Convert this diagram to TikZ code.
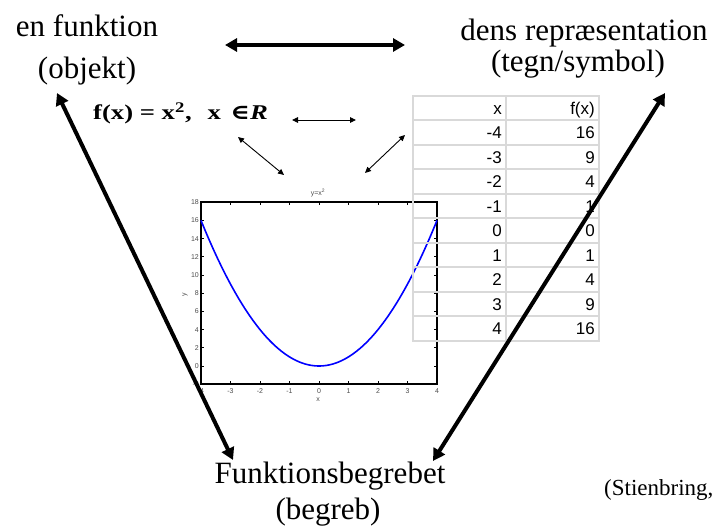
\documentclass[tikz,border=0pt]{standalone}
\usepackage{fontspec}
\setmainfont{Liberation Serif}
\newfontfamily\arialfont{Liberation Sans}
\newfontfamily\symfont{DejaVu Serif}
\usetikzlibrary{arrows.meta}
\begin{document}
\begin{tikzpicture}[x=1pt,y=-1pt,
  bigtxt/.style={font=\fontsize{31}{36}\selectfont, inner sep=0pt, anchor=base},
  thickarrow/.style={line width=4pt, {Triangle[length=12pt,width=13pt]}-{Triangle[length=12pt,width=13pt]}},
  thinarrow/.style={line width=0.9pt, {Triangle[length=6pt,width=5.5pt]}-{Triangle[length=6pt,width=5.5pt]}},
  gridline/.style={draw=black!15, line width=2pt, line cap=rect},
  cell/.style={font=\arialfont\fontsize{17}{20}\selectfont, inner sep=0pt, anchor=base east},
  ticklbl/.style={font=\arialfont\fontsize{7}{8}\selectfont, text=black!70, inner sep=0pt},
  tick/.style={line width=0.6pt},
]
\useasboundingbox (0,0) rectangle (715,526);

% ---------- plot ----------
\draw[line width=1.2pt] (201,202) rectangle (437,384);
\foreach \u in {-3,...,3} {
  \draw[tick] ({319+29.5*\u},384) -- ++(0,-3);
  \draw[tick] ({319+29.5*\u},202) -- ++(0,3);
}
\foreach \u in {-4,...,4} {
  \node[ticklbl, anchor=north] (xl\u) at ({319+29.5*\u},388) {\u};
}
\foreach \yy in {-2,0,...,18} {
  \draw[tick] (201,{366-9.1*\yy}) -- ++(3,0);
  \draw[tick] (437,{366-9.1*\yy}) -- ++(-3,0);
  \node[ticklbl, anchor=east] (yl\yy) at (199,{366-9.1*\yy}) {\yy};
}
\node[ticklbl] (ptitle) at (318,193) {y=x\textsuperscript{2}};
\node[ticklbl] (xlab) at (318,400) {x};
\node[ticklbl, rotate=90] (ylab) at (185,295) {y};
\draw[blue, line width=1.6pt, domain=-4:4, samples=80, smooth]
  plot ({319+29.5*\x},{366-9.1*\x*\x});

% ---------- table ----------
\foreach \i in {0,...,10} \draw[gridline] (413,{96+24.5*\i}) -- (599,{96+24.5*\i});
\foreach \xx in {413,506,599} \draw[gridline] (\xx,96) -- (\xx,341);
\foreach \a/\b [count=\i] in {x/{f(x)},-4/16,-3/9,-2/4,-1/1,0/0,1/1,2/4,3/9,4/16} {
  \node[cell] (ca\i) at (502,{96+24.5*\i-6}) {\a};
  \node[cell] (cb\i) at (595,{96+24.5*\i-6}) {\b};
}

% ---------- texts ----------
\node[bigtxt] (enf) at (87,37) {en funktion};
\node[bigtxt] (obj) at (87,79) {(objekt)};
\node[bigtxt] (dens) at (584,41) {dens repræsentation};
\node[bigtxt] (tegn) at (578,72) {(tegn/symbol)};
\node[bigtxt] (fb) at (330,483) {Funktionsbegrebet};
\node[bigtxt] (begreb) at (328,519) {(begreb)};
\node[anchor=base west, font=\fontsize{23}{26}\selectfont, inner sep=0pt] (ref) at (604,495) {(Stienbring,};
\node[anchor=base west, inner sep=0pt, font=\bfseries\fontsize{21}{24}\selectfont] (formula) at (93,120)
  {\scalebox{1.27}[1]{f(x) = x\textsuperscript{2},\hspace{0.6em}x\hspace{0.35em}{\symfont\bfseries ∈}\textbf{\textit{R}}}};

% ---------- arrows ----------
\coordinate (topL) at (225,45);
\coordinate (topR) at (405,45);
\coordinate (objtip) at (57,93);
\coordinate (begL) at (233,460);
\coordinate (tegntip) at (665,93);
\coordinate (begR) at (433,461);
\coordinate (hL) at (292,120);
\coordinate (hR) at (356,120);
\coordinate (dLa) at (238,137);
\coordinate (dLb) at (284,175);
\coordinate (dRa) at (365,173);
\coordinate (dRb) at (405,135);

\draw[thickarrow] (topL) -- (topR);
\draw[thickarrow] (objtip) -- (begL);
\draw[thickarrow] (tegntip) -- (begR);
\draw[thinarrow] (hL) -- (hR);
\draw[thinarrow] (dLa) -- (dLb);
\draw[thinarrow] (dRa) -- (dRb);
\end{tikzpicture}
\end{document}
